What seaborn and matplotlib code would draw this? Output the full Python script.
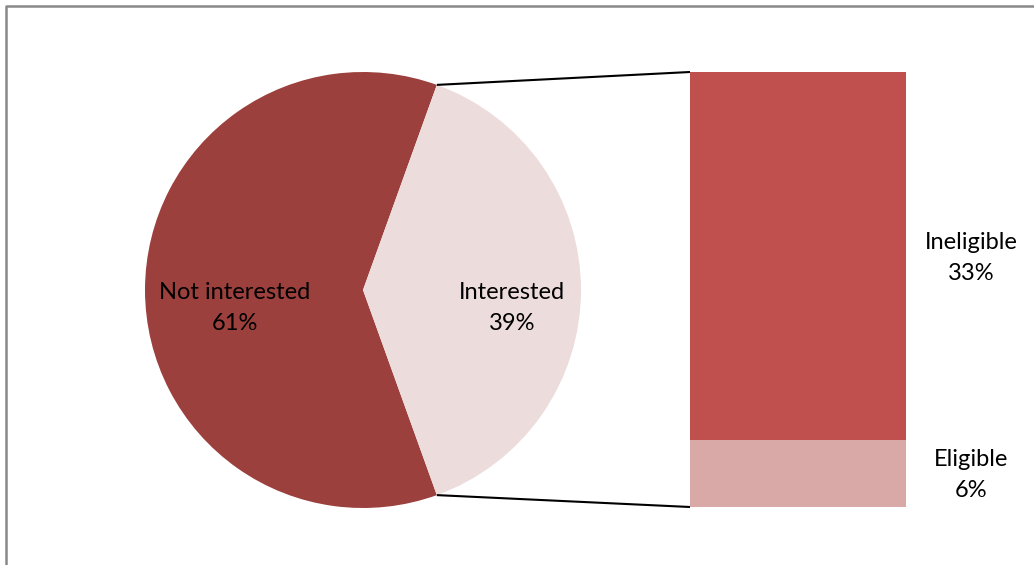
import matplotlib
matplotlib.use('Agg')
import matplotlib.pyplot as plt
import numpy as np
import seaborn as sns

# data
pie_labels = ['Not interested', 'Interested']
pie_values = [61, 39]
pie_colors = ['#9C403D', '#EDDCDC']

bar_labels = ['Ineligible', 'Eligible']
bar_values = [33, 6]
bar_colors = ['#C0504D', '#D9A9A8']

sns.set_style('white')
plt.rcParams['font.family'] = ['Lato', 'DejaVu Sans']

W, H = 1034, 565
fig = plt.figure(figsize=(W / 100, H / 100), dpi=100)

# main axes in pixel coordinates (y up)
ax = fig.add_axes([0, 0, 1, 1])

cx, cy, r = 363, H - 290, 218
half = 360 * pie_values[1] / sum(pie_values) / 2
ax.pie(pie_values, colors=pie_colors, startangle=half, center=(cx, cy),
       radius=r, frame=True, wedgeprops=dict(linewidth=0))
ax.set_xlim(0, W)
ax.set_ylim(0, H)
ax.set_aspect('auto')
ax.axis('off')

fs = 17
ls = 1.6
ax.text(235, H - 308, f'{pie_labels[0]}\n{pie_values[0]}%', ha='center', va='center',
        fontsize=fs, linespacing=ls, color='black')
ax.text(512, H - 308, f'{pie_labels[1]}\n{pie_values[1]}%', ha='center', va='center',
        fontsize=fs, linespacing=ls, color='black')

# connector lines from wedge edges to bar corners
bx0, btop, bbot = 690, H - 72, H - 507
for ang, by in [(half, btop), (-half, bbot)]:
    px = cx + r * np.cos(np.radians(ang))
    py = cy + r * np.sin(np.radians(ang))
    ax.plot([px, bx0], [py, by], color='black', lw=1.5, solid_capstyle='butt')

# stacked bar
bax = fig.add_axes([bx0 / W, bbot / H, 216 / W, (btop - bbot) / H])
total = sum(bar_values)
sns.barplot(x=['Interested'], y=[total], color=bar_colors[0], width=1,
            saturation=1, ax=bax, linewidth=0)
sns.barplot(x=['Interested'], y=[bar_values[1]], color=bar_colors[1], width=1,
            saturation=1, ax=bax, linewidth=0)
bax.set_xlim(-0.5, 0.5)
bax.set_ylim(0, total)
bax.axis('off')

ax.text(971, H - 258, f'{bar_labels[0]}\n{bar_values[0]}%', ha='center', va='center',
        fontsize=fs, linespacing=ls, color='black')
ax.text(971, H - 475, f'{bar_labels[1]}\n{bar_values[1]}%', ha='center', va='center',
        fontsize=fs, linespacing=ls, color='black')

# chart frame (right and bottom edges cut off)
ax.plot([6, 6, W + 5], [-5, H - 6, H - 6], color='#898989', lw=1.8, clip_on=False)

fig.savefig('out.png', dpi=100)
